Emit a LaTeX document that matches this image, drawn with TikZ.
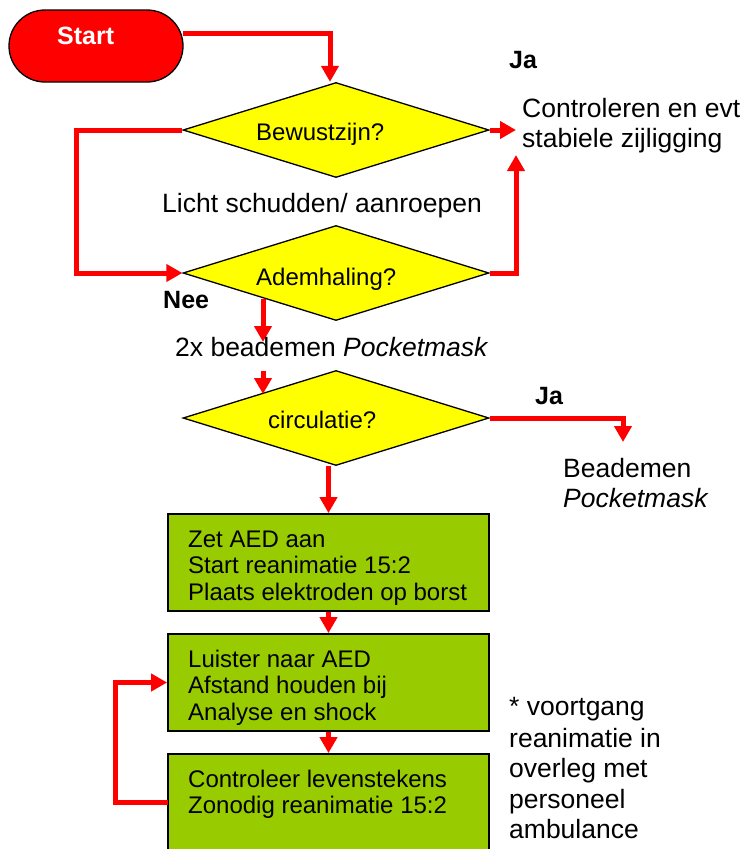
\documentclass[tikz,border=0pt]{standalone}
\usepackage{fontspec}
\setmainfont{Liberation Sans}
\usetikzlibrary{arrows.meta,shapes.geometric,calc}
\definecolor{ared}{HTML}{FF0000}
\definecolor{ayel}{HTML}{FFFF00}
\definecolor{agreen}{HTML}{99CC00}
\begin{document}
\begin{tikzpicture}[x=1pt,y=-1pt,
 conn/.style={draw=ared, line width=5pt},
 arr/.style={conn, -{Triangle[length=16pt,width=17pt]}},
 dia/.style={diamond, draw=black, line width=1.3pt, fill=ayel, minimum width=306pt, minimum height=95pt, inner sep=0pt},
 abox/.style={rectangle, draw=black, line width=1.8pt, fill=agreen, minimum width=321pt, inner sep=0pt},
 lbl/.style={anchor=base west, inner sep=0pt, font=\fontsize{26.5}{30}\selectfont},
 dtxt/.style={anchor=base west, inner sep=0pt, font=\fontsize{24}{27}\selectfont},
 btxt/.style={anchor=base west, inner sep=0pt, font=\bfseries\fontsize{25}{30}\selectfont},
]
\useasboundingbox (0,0) rectangle (744,849);
\clip (0,0) rectangle (744,849);

% shapes
\node[draw=black, line width=1.3pt, fill=ared, rounded corners=36pt, minimum width=174pt, minimum height=72pt, inner sep=0pt] (start) at (96,46) {};
\node[btxt, text=white] (starttxt) at (57,44) {Start};

\node[dia] (d1) at (336,130) {};
\node[dia] (d2) at (336,273) {};
\node[dia] (d3) at (336,418) {};

\node[abox, minimum height=97pt] (box1) at (328.5,562.5) {};
\node[abox, minimum height=97pt] (box2) at (328.5,682.5) {};
\node[abox, minimum height=106pt] (box3) at (328.5,807) {};

% connectors
\coordinate (s1) at (183,33);
\draw[arr] (s1) -| ([xshift=-6pt]d1.north);
\coordinate (ctrlin) at (516,130);
\draw[arr] (d1.east) -- (ctrlin);
\coordinate (ctrlbelow) at (516,155);
\draw[arr] (d2.east) -| (ctrlbelow);
\coordinate (loopL) at (76,130);
\draw[arr] (d1.west) -- (loopL) |- (d2.west);
\coordinate (n1) at (263,299);
\coordinate (n2) at (263,342);
\draw[arr] (n1) -- (n2);
\coordinate (n3) at (263,371);
\coordinate (n4) at (263,394);
\draw[arr] (n3) -- (n4);
\coordinate (ja2) at (623,442);
\draw[arr] (d3.east) -| (ja2);
\draw[arr] (box1.north |- d3.south) -- (box1.north);
\draw[arr] (box1.south) -- (box2.north);
\draw[arr] (box2.south) -- (box3.north);
\coordinate (b3out) at (168,802);
\coordinate (loopB) at (115,802);
\draw[arr] (b3out) -- (loopB) |- (box2.west);

% texts in diamonds
\node[dtxt] (t1) at (256,140) {Bewustzijn?};
\node[dtxt] (t2) at (256,285) {Ademhaling?};
\node[dtxt] (t3) at (268,428) {circulatie?};

% labels
\node[btxt] (ja1) at (509,68) {Ja};
\node[lbl] (c1) at (522,117) {Controleren en evt};
\node[lbl] (c2) at (522,147) {stabiele zijligging};
\node[lbl] (licht) at (162,212) {Licht schudden/ aanroepen};
\node[btxt] (nee) at (163,308) {Nee};
\node[lbl] (twox) at (175,356) {2x beademen \textit{Pocketmask}};
\node[btxt] (ja2t) at (535,404) {Ja};
\node[lbl] (bd1) at (563,477) {Beademen};
\node[lbl] (bd2) at (563,507) {\textit{Pocketmask}};

% box texts
\node[dtxt] (b1a) at (188,547) {Zet AED aan};
\node[dtxt] (b1b) at (188,573) {Start reanimatie 15:2};
\node[dtxt] (b1c) at (188,600) {Plaats elektroden op borst};
\node[dtxt] (b2a) at (188,667) {Luister naar AED};
\node[dtxt] (b2b) at (188,693) {Afstand houden bij};
\node[dtxt] (b2c) at (188,720) {Analyse en shock};
\node[dtxt] (b3a) at (188,787) {Controleer levenstekens};
\node[dtxt] (b3b) at (188,813) {Zonodig reanimatie 15:2};

% side note
\node[lbl] (s1t) at (509,715) {* voortgang};
\node[lbl] (s2t) at (509,747) {reanimatie in};
\node[lbl] (s3t) at (509,777) {overleg met};
\node[lbl] (s4t) at (509,808) {personeel};
\node[lbl] (s5t) at (509,838) {ambulance};
\end{tikzpicture}
\end{document}
